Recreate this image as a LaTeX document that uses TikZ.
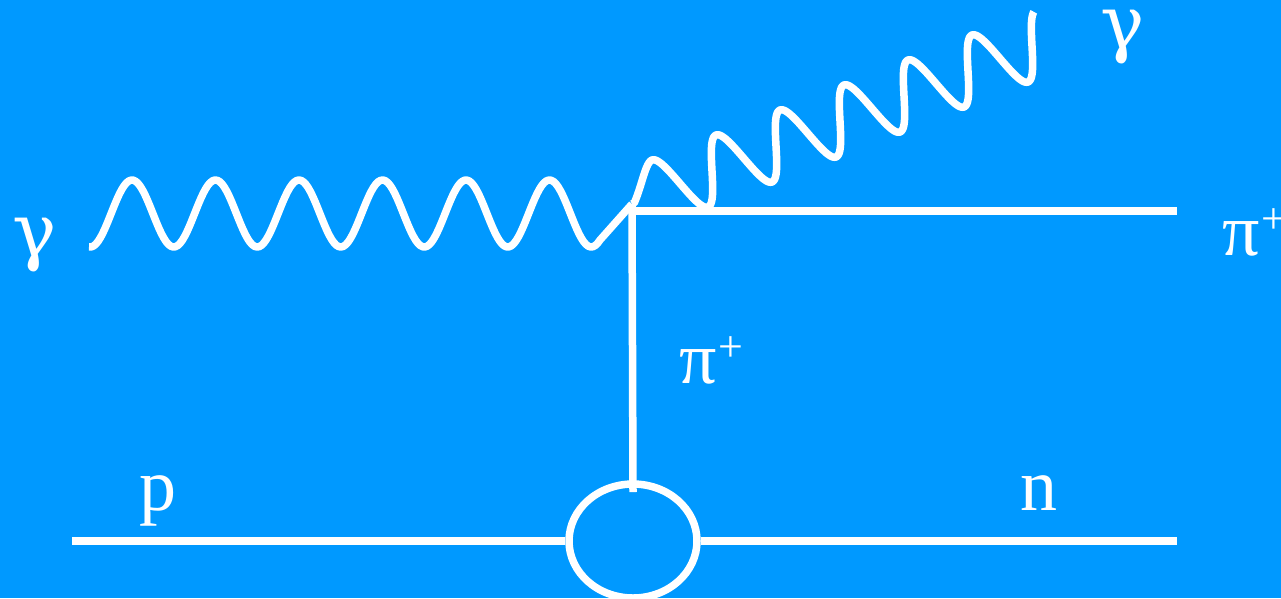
\documentclass[tikz,border=0pt]{standalone}
\usepackage{fontspec}
\setmainfont{Liberation Serif}
\newfontfamily\grk{DejaVu Serif}
\usetikzlibrary{shapes.geometric}
\definecolor{bgblue}{RGB}{0,153,255}
\newcommand{\plusup}{\raisebox{22pt}{\fontsize{44}{44}\selectfont +}}
\begin{document}
\begin{tikzpicture}[x=1pt,y=-1pt,
  ln/.style={white,line width=7.5pt,line join=round},
  lbl/.style={text=white,font=\fontsize{74}{78}\selectfont,inner sep=0pt,anchor=base}]
\fill[bgblue] (0,0) rectangle (1281,598);
\useasboundingbox (0,0) rectangle (1281,598);
\clip (0,0) rectangle (1281,598);
% named points
\coordinate (V) at (632,204);
\coordinate (H0) at (633,211);
\coordinate (HR) at (1177,211);
\coordinate (Vb) at (633,492);
\coordinate (pL) at (72,541);
\coordinate (nR) at (1177,541);
\node[draw=white,line width=7.5pt,ellipse,inner sep=0pt,minimum width=128pt,minimum height=114pt] (blob) at (633,541) {};
% fermion / pion lines
\draw[ln] (pL) -- (blob.west);
\draw[ln] (blob.east) -- (nR);
\draw[ln] (V) -- (Vb);
\draw[ln] (H0) -- (HR);
% incoming photon
\draw[ln] plot[domain=89:600,samples=220] (\x,{213.5-33.5*cos((\x-132)*4.3114)}) -- (V);
% outgoing photon
\draw[ln] (V) -- plot[domain=-11.5:2236,samples=480]
  ({648+\x/360*64-12*sin(\x)-14*(max(0,1-(\x+11.5)/100))^2},
   {196-\x/360*25-29.75*sin(\x)});
% labels
\node[lbl] (gin) at (35,256) {\grk γ};
\node[lbl] (gout) at (1123,48) {\grk γ};
\node[lbl,anchor=base west] (piR) at (1222,255) {π\hspace{2pt}\plusup};
\node[lbl,anchor=base west] (piM) at (679,383) {π\hspace{2pt}\plusup};
\node[lbl] (p) at (158,510) {p};
\node[lbl] (n) at (1039,510) {n};
\end{tikzpicture}
\end{document}
